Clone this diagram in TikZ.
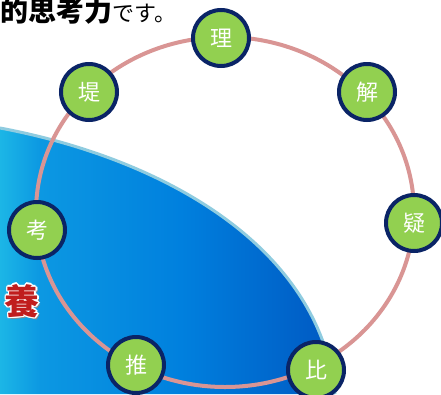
\documentclass[tikz,border=0pt]{standalone}
\usepackage{fontspec}
\newfontfamily\jpfont{Noto Sans CJK JP}
\usetikzlibrary{shadings}
\definecolor{ringpink}{HTML}{D99594}
\definecolor{navy}{HTML}{0A2466}
\definecolor{leafgreen}{HTML}{92D050}
\definecolor{blueedge}{HTML}{8FCCE0}
\definecolor{redtxt}{HTML}{C01E1E}
\definecolor{blueL}{HTML}{1CB6E6}
\definecolor{blueM}{HTML}{0C98E2}
\definecolor{blueN}{HTML}{0080DE}
\definecolor{blueR}{HTML}{0058C2}
\pgfdeclarehorizontalshading{bluefade}{100bp}{
  color(0bp)=(blueL); color(25bp)=(blueL); color(31bp)=(blueM); color(52bp)=(blueN);
  color(75bp)=(blueR); color(100bp)=(blueR)}
\tikzset{
  kanji/.style={circle, draw=navy, line width=4pt, fill=leafgreen, minimum size=56pt,
    inner sep=0pt, text=white, font=\jpfont\fontsize{22}{22}\selectfont},
}
\newcommand{\yoglyph}{\jpfont\bfseries\fontsize{35}{35}\selectfont 養}
\begin{document}
\begin{tikzpicture}[x=1pt,y=-1pt]
\useasboundingbox (0,0) rectangle (441,394);
\clip (0,0) rectangle (441,394);
\fill[white] (0,0) rectangle (441,394);
% blue region
\shade[shading=bluefade]
  (0,128) .. controls (170,160) and (320,250) .. (335,394) -- (0,394) -- cycle;
\draw[blueedge, line width=3pt] (0,128) .. controls (170,160) and (320,250) .. (335,394);
% heading text
\node[anchor=base west, inner sep=0pt] (head) at (0,21)
  {\jpfont{\bfseries\fontsize{28}{28}\selectfont 的思考力}{\fontsize{22}{22}\selectfont です。}};
% 養 with outline and shadow
\node[text=black!45, inner sep=0pt] (yoS) at (24,303) {\yoglyph};
\foreach \dx/\dy in {1.5/0,-1.5/0,0/1.5,0/-1.5,1.1/1.1,-1.1/1.1,1.1/-1.1,-1.1/-1.1}
  \node[text=white, inner sep=0pt] at (22+\dx,301+\dy) {\yoglyph};
\node[text=redtxt, inner sep=0pt] (yo) at (22,301) {\yoglyph};
% ring
\draw[ringpink, line width=4pt] (225,212) ellipse [x radius=189, y radius=175];
% nodes
\node[kanji] (ri) at (221,38) {理};
\node[kanji] (kai) at (367,92) {解};
\node[kanji] (gi) at (414,223) {疑};
\node[kanji] (hi) at (316,370) {比};
\node[kanji] (sui) at (136,365) {推};
\node[kanji] (kou) at (37,230) {考};
\node[kanji] (tei) at (89,92) {堤};
\end{tikzpicture}
\end{document}
